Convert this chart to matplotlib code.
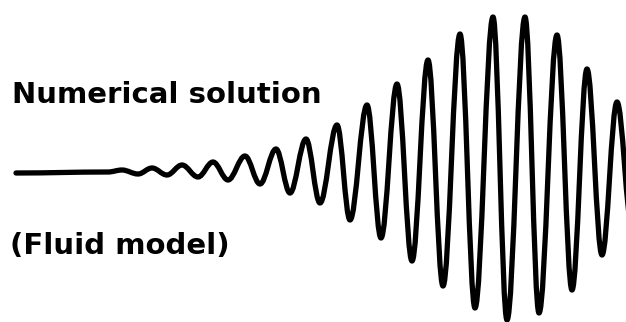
import matplotlib
matplotlib.use("Agg")
import matplotlib.pyplot as plt
from matplotlib.path import Path
from matplotlib.patches import PathPatch

# turning points of the wave packet (position, displacement above the rest level)
pos = [16, 108, 122, 138, 152, 167, 182, 198, 213, 228, 245, 260, 276, 290,
       306, 320, 337, 350, 367, 381, 397, 412, 428, 443, 460, 475, 493, 507,
       525, 539, 557, 572, 587, 602, 617, 632]
disp = [-1, 0, 2, -2, 4, -3, 7, -5, 10, -8, 16, -12, 23, -21,
        33, -31, 47, -48, 67, -66, 88, -89, 112, -114, 138, -136, 155, -148,
        155, -141, 137, -118, 103, -83, 70, -55]

label_top = "Numerical solution"
label_bottom = "(Fluid model)"

fig = plt.figure(figsize=(6.26, 3.22), dpi=100)
ax = fig.add_axes([0, 0, 1, 1])
ax.set_xlim(0, 626)
ax.set_ylim(-150, 172)
ax.axis("off")

# smooth half-waves between neighbouring turning points (flat tangent at each extremum)
k = 0.3642
verts = [(pos[0], disp[0])]
codes = [Path.MOVETO]
for i in range(len(pos) - 1):
    x0, y0, x1, y1 = pos[i], disp[i], pos[i + 1], disp[i + 1]
    dx = x1 - x0
    verts += [(x0 + k * dx, y0), (x1 - k * dx, y1), (x1, y1)]
    codes += [Path.CURVE4] * 3

wave = PathPatch(Path(verts, codes), facecolor="none", edgecolor="black",
                 lw=3.8, capstyle="round", joinstyle="round")
ax.add_patch(wave)

fig.text(12 / 626, 1 - 103 / 322, label_top, fontsize=21, fontweight="bold",
         color="black", va="baseline", ha="left")
fig.text(10 / 626, 1 - 254 / 322, label_bottom, fontsize=21, fontweight="bold",
         color="black", va="baseline", ha="left")

fig.savefig("out.png", dpi=100, facecolor="white")
